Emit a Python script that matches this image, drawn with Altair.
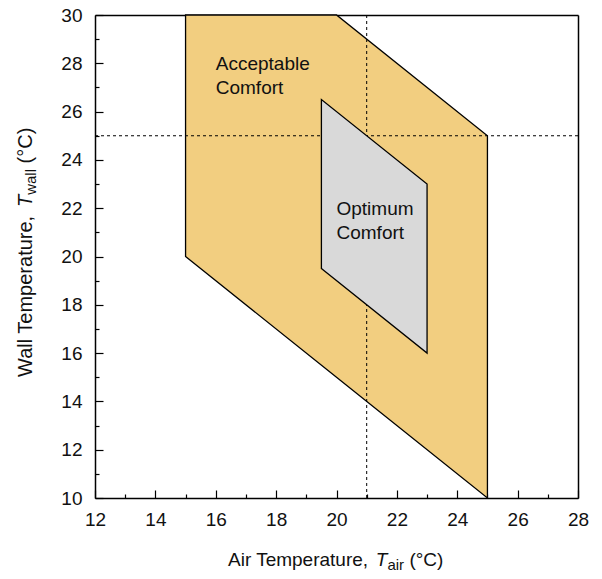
import altair as alt
import pandas as pd

# ---- data ----
# Acceptable comfort region: x (air temp), lower and upper wall temp
acc_x = [15, 20, 25]
acc_lo = [20, 15, 10]
acc_hi = [30, 30, 25]
# Optimum comfort region
opt_x = [19.5, 23]
opt_lo = [19.5, 16]
opt_hi = [26.5, 23]
# reference dashed lines
ref_x = [21]
ref_y = [25]
# ticks
x_major = [12, 14, 16, 18, 20, 22, 24, 26, 28]
x_minor = [13, 15, 17, 19, 21, 23, 25, 27]
y_major = [10, 12, 14, 16, 18, 20, 22, 24, 26, 28, 30]
y_minor = [11, 13, 15, 17, 19, 21, 23, 25, 27, 29]
# labels
label_acc = ["Acceptable", "Comfort"]
label_opt = ["Optimum", "Comfort"]
label_acc_pos = (16, 27.72)
label_opt_pos = (20, 21.72)
x_title_parts = ["Air Temperature,", "T", "air", "(°C)"]
y_title_parts = ["Wall Temperature,", "T", "wall", "(°C)"]

FONT = "Liberation Sans"
FS = 19
W, H = 483, 483

acc_df = pd.DataFrame({"x": acc_x, "lo": acc_lo, "hi": acc_hi})
opt_df = pd.DataFrame({"x": opt_x, "lo": opt_lo, "hi": opt_hi})

xs = alt.Scale(domain=[12, 28], nice=False, zero=False)
ys = alt.Scale(domain=[10, 30], nice=False, zero=False)

main_x_axis = alt.Axis(values=x_major, ticks=False, domain=True, domainColor="black",
                       domainWidth=1.5, grid=False,
                       labelFont=FONT, labelFontSize=FS, labelColor="#111",
                       labelPadding=12, labelFlush=False, labelOverlap=False,
                       title=None)
main_y_axis = alt.Axis(values=y_major, ticks=False, domain=True, domainColor="black",
                       domainWidth=1.5, grid=False,
                       labelFont=FONT, labelFontSize=FS, labelColor="#111",
                       labelPadding=13, labelFlush=False, labelOverlap=False,
                       title=None)


def tick_axis(vals, orient, size):
    return alt.Axis(values=vals, orient=orient, offset=-size, tickSize=size,
                    tickColor="black", tickWidth=1.2, labels=False, domain=False,
                    grid=False, title=None)


def frame_axis(orient):
    return alt.Axis(orient=orient, ticks=False, labels=False, domain=True,
                    domainColor="black", domainWidth=1.5, grid=False, title=None)


acc = alt.Chart(acc_df).mark_area(
    color="#F2CE80", stroke="black", strokeWidth=1.3, opacity=1
).encode(
    x=alt.X("x:Q", scale=xs, axis=main_x_axis),
    y=alt.Y("lo:Q", scale=ys, axis=main_y_axis),
    y2="hi:Q",
)

vrule = alt.Chart(pd.DataFrame({"x": ref_x})).mark_rule(
    color="black", strokeDash=[3, 3], strokeWidth=1
).encode(x=alt.X("x:Q", scale=xs, axis=tick_axis(x_major, "bottom", 8)))

hrule = alt.Chart(pd.DataFrame({"y": ref_y})).mark_rule(
    color="black", strokeDash=[3, 3], strokeWidth=1
).encode(y=alt.Y("y:Q", scale=ys, axis=tick_axis(y_major, "left", 8)))

opt = alt.Chart(opt_df).mark_area(
    color="#D9D9D9", stroke="black", strokeWidth=1.3, opacity=1
).encode(
    x=alt.X("x:Q", scale=xs, axis=tick_axis(x_minor, "bottom", 4)),
    y=alt.Y("lo:Q", scale=ys, axis=tick_axis(y_minor, "left", 4)),
    y2="hi:Q",
)

lab_df = pd.DataFrame({
    "x": [label_acc_pos[0], label_opt_pos[0]],
    "y": [label_acc_pos[1], label_opt_pos[1]],
    "t": [label_acc, label_opt],
})
labels = alt.Chart(lab_df).mark_text(
    align="left", baseline="alphabetic", font=FONT, fontSize=FS,
    color="#111", lineHeight=24
).encode(
    x=alt.X("x:Q", scale=xs, axis=frame_axis("top")),
    y=alt.Y("y:Q", scale=ys, axis=frame_axis("right")),
    text="t",
)


def txt(s, x, y, size=FS, italic=False, angle=0):
    kw = dict(align="left", baseline="alphabetic", font=FONT, fontSize=size,
              color="#111", text=s)
    if italic:
        kw["fontStyle"] = "italic"
    if angle:
        kw["angle"] = angle
    return alt.Chart(pd.DataFrame({"a": [0]})).mark_text(**kw).encode(
        x=alt.value(x), y=alt.value(y))


titles = [
    txt(x_title_parts[0], 133, 551),
    txt(x_title_parts[1], 280.8, 551, italic=True),
    txt(x_title_parts[2], 292.4, 555, size=15),
    txt(x_title_parts[3], 314.4, 551),
    txt(y_title_parts[0], -63, 362, size=20, angle=270),
    txt(y_title_parts[1], -63, 192, size=20, italic=True, angle=270),
    txt(y_title_parts[2], -59, 179.8, size=15, angle=270),
    txt(y_title_parts[3], -63, 148.4, size=20, angle=270),
]

chart = alt.layer(acc, vrule, hrule, opt, labels, *titles).resolve_axis(
    x="independent", y="independent"
).properties(
    width=W, height=H,
    autosize=alt.AutoSizeParams(type="none"),
    padding={"left": 87, "top": 7, "right": 12, "bottom": 72},
).configure_view(
    stroke=None
).configure(background="white")

chart.save("out.html", embed_options={"renderer": "svg", "actions": False})
